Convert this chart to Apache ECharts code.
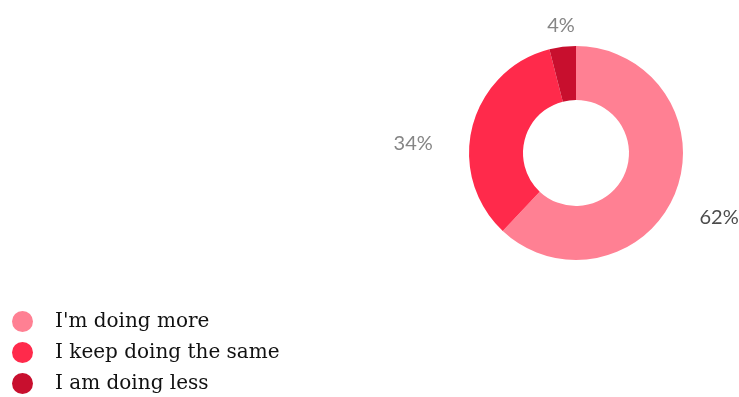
<!DOCTYPE html>
<html>
<head>
<meta charset="utf-8">
<script src="https://cdn.jsdelivr.net/npm/echarts@6/dist/echarts.min.js"></script>
<style>
  html, body { margin: 0; padding: 0; background: #fff; }
  #chart { width: 739px; height: 397px; }
</style>
</head>
<body>
<div id="chart"></div>
<script>
// Survey answers and their shares (percent)
const categories = ["I'm doing more", "I keep doing the same", "I am doing less"];
const shares = [62, 34, 4];
const colors = ['#ff8093', '#ff2a4b', '#c80f2e'];
const labelColors = ['#4c4c4c', '#858585', '#858585'];
// nudges for the outside percent labels
const labelShift = [[0, 20], [-15, 21], [25, -7]];

const chart = echarts.init(document.getElementById('chart'));
chart.setOption({
  animation: false,
  color: colors,
  legend: {
    orient: 'vertical',
    left: 12,
    top: 308,
    height: 200,
    padding: 0,
    icon: 'circle',
    itemWidth: 21,
    itemHeight: 21,
    itemGap: 4,
    textStyle: {
      fontFamily: 'DejaVu Serif', fontSize: 20, lineHeight: 21,
      color: '#111', padding: [6, 0, 0, 17]
    },
    data: categories
  },
  series: [{
    type: 'pie',
    center: [576, 153],
    radius: [53, 107],
    startAngle: 90,
    clockwise: true,
    avoidLabelOverlap: false,
    label: {
      show: true,
      position: 'outside',
      formatter: '{c}%',
      fontFamily: 'Lato',
      fontWeight: 'normal',
      fontSize: 20
    },
    labelLine: { show: false, length: 14, length2: 6 },
    labelLayout: (p) => ({ dx: labelShift[p.dataIndex][0], dy: labelShift[p.dataIndex][1] }),
    data: categories.map((name, i) => ({
      name, value: shares[i], label: { color: labelColors[i] }
    }))
  }]
});
</script>
</body>
</html>
